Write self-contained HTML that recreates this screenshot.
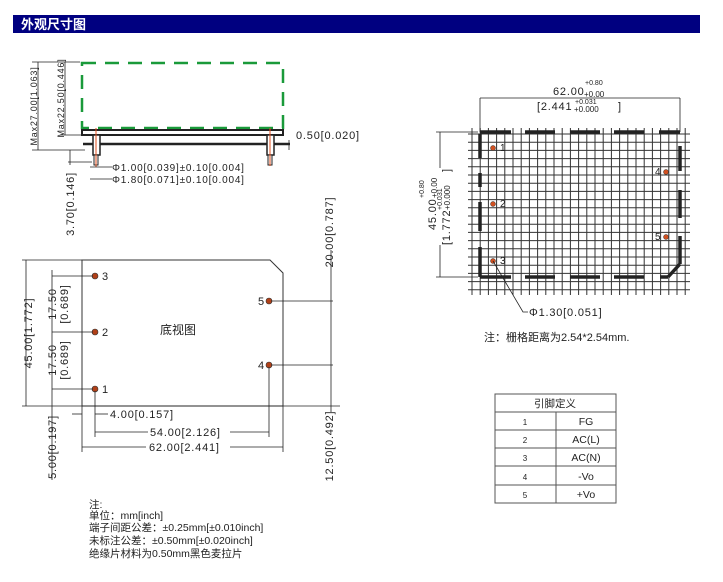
<!DOCTYPE html>
<html><head><meta charset="utf-8"><style>
body{margin:0;background:#fff;width:723px;height:577px;overflow:hidden}
svg text{font-family:"Liberation Sans","Noto Sans CJK SC",sans-serif;fill:#222}
.d{letter-spacing:0.8px}
</style></head><body>
<svg width="723" height="577" viewBox="0 0 723 577" xmlns="http://www.w3.org/2000/svg">
<rect x="13" y="15" width="687" height="18" fill="#000080"/>
<text x="21" y="29" font-size="13" font-weight="bold" style="fill:#fff">外观尺寸图</text>

<!-- side view -->
<rect x="82" y="63" width="201" height="65" fill="none" stroke="#1a9a3a" stroke-width="2.5" stroke-dasharray="14,9"/>
<rect x="82" y="130" width="201" height="5" fill="#fff" stroke="#222" stroke-width="2"/>
<line x1="83" y1="144" x2="290" y2="144" stroke="#222" stroke-width="2.5"/>
<rect x="93" y="135" width="7" height="20" fill="#fff" stroke="#222" stroke-width="1.5"/>
<rect x="94" y="155" width="4" height="10" fill="#fff" stroke="#222"/>
<rect x="267" y="135" width="7" height="20" fill="#fff" stroke="#222" stroke-width="1.5"/>
<rect x="268" y="155" width="4" height="10" fill="#fff" stroke="#222"/>
<line x1="96" y1="128" x2="96" y2="167" stroke="#e05020"/>
<line x1="270" y1="128" x2="270" y2="166" stroke="#e05020"/>
<g stroke="#222" stroke-width="0.8" fill="none">
<line x1="38" y1="62" x2="38" y2="150"/><line x1="32" y1="62" x2="80" y2="62"/><line x1="32" y1="150" x2="85" y2="150"/>
<line x1="65" y1="62" x2="65" y2="135"/><line x1="60" y1="135" x2="82" y2="135"/>
<line x1="70" y1="150" x2="70" y2="165"/><line x1="68" y1="162" x2="92" y2="162"/>
<line x1="90" y1="167" x2="112" y2="167"/><line x1="90" y1="179" x2="112" y2="179"/>
<line x1="289" y1="140" x2="289" y2="150"/>
</g>
<text transform="translate(37,106) rotate(-90)" font-size="9" text-anchor="middle" class="d">Max27.00[1.063]</text>
<text transform="translate(64,98) rotate(-90)" font-size="9" text-anchor="middle" class="d">Max22.50[0.446]</text>
<text transform="translate(74,204) rotate(-90)" font-size="11" text-anchor="middle" class="d">3.70[0.146]</text>
<text x="296" y="139" font-size="11" class="d">0.50[0.020]</text>
<text x="112" y="171" font-size="10" class="d">Φ1.00[0.039]±0.10[0.004]</text>
<text x="112" y="183" font-size="10" class="d">Φ1.80[0.071]±0.10[0.004]</text>

<!-- bottom view -->
<path d="M82 260 H270 L283 273 V406 H82 Z" fill="none" stroke="#333" stroke-width="1"/>
<g fill="#b04018" stroke="#333" stroke-width="0.6">
<circle cx="95" cy="276" r="3"/><circle cx="95" cy="332" r="3"/><circle cx="95" cy="389" r="3"/>
<circle cx="269" cy="301" r="3"/><circle cx="269" cy="365" r="3"/></g>
<text x="102" y="280" font-size="11">3</text><text x="102" y="336" font-size="11">2</text><text x="102" y="393" font-size="11">1</text>
<text x="258" y="305" font-size="11">5</text><text x="258" y="369" font-size="11">4</text>
<text x="160" y="334" font-size="12">底视图</text>
<g stroke="#222" stroke-width="0.8" fill="none">
<line x1="26" y1="260" x2="26" y2="406"/><line x1="22" y1="260" x2="82" y2="260"/><line x1="22" y1="406" x2="340" y2="406"/>
<line x1="52" y1="270" x2="52" y2="480"/><line x1="52" y1="276" x2="93" y2="276"/><line x1="52" y1="332" x2="93" y2="332"/><line x1="52" y1="389" x2="93" y2="389"/>
<line x1="82" y1="406" x2="82" y2="452"/><line x1="95" y1="391" x2="95" y2="437"/><line x1="269" y1="367" x2="269" y2="437"/><line x1="283" y1="406" x2="283" y2="452"/>
<line x1="72" y1="414" x2="82" y2="414"/><line x1="95" y1="414" x2="108" y2="414"/>
<line x1="95" y1="432" x2="148" y2="432"/><line x1="230" y1="432" x2="269" y2="432"/>
<line x1="82" y1="447" x2="146" y2="447"/><line x1="230" y1="447" x2="283" y2="447"/>
<line x1="331" y1="250" x2="331" y2="406"/><line x1="271" y1="301" x2="333" y2="301"/><line x1="271" y1="365" x2="333" y2="365"/>
<line x1="331" y1="406" x2="331" y2="412"/>
</g>
<text transform="translate(32,333) rotate(-90)" font-size="11" text-anchor="middle" class="d">45.00[1.772]</text>
<text transform="translate(56,304) rotate(-90)" font-size="11" text-anchor="middle" class="d">17.50</text>
<text transform="translate(68,304) rotate(-90)" font-size="11" text-anchor="middle" class="d">[0.689]</text>
<text transform="translate(56,360) rotate(-90)" font-size="11" text-anchor="middle" class="d">17.50</text>
<text transform="translate(68,360) rotate(-90)" font-size="11" text-anchor="middle" class="d">[0.689]</text>
<text transform="translate(56,447) rotate(-90)" font-size="11" text-anchor="middle" class="d">5.00[0.197]</text>
<text transform="translate(333,232) rotate(-90)" font-size="11" text-anchor="middle" class="d">20.00[0.787]</text>
<text transform="translate(333,446) rotate(-90)" font-size="11" text-anchor="middle" class="d">12.50[0.492]</text>
<text x="110" y="418" font-size="11" class="d">4.00[0.157]</text>
<text x="150" y="436" font-size="11" class="d">54.00[2.126]</text>
<text x="149" y="451" font-size="11" class="d">62.00[2.441]</text>
<g font-size="10.5">
<text x="89" y="508">注:</text><text x="89" y="519">单位：mm[inch]</text>
<text x="89" y="531">端子间距公差：±0.25mm[±0.010inch]</text>
<text x="89" y="544">未标注公差：±0.50mm[±0.020inch]</text>
<text x="89" y="557">绝缘片材料为0.50mm黑色麦拉片</text></g>

<!-- grid -->
<path stroke="#333" stroke-width="1" fill="none" d="
M472 128V295 M480.2 128V295 M488.4 128V295 M496.6 128V295 M504.8 128V295 M513 128V295 M521.2 128V295 M529.4 128V295 M537.6 128V295 M545.8 128V295 M554 128V295 M562.2 128V295 M570.4 128V295 M578.6 128V295 M586.8 128V295 M595 128V295 M603.2 128V295 M611.4 128V295 M619.6 128V295 M627.8 128V295 M636 128V295 M644.2 128V295 M652.4 128V295 M660.6 128V295 M668.8 128V295 M677 128V295 M685.2 128V295
M468 134H690 M468 142.2H690 M468 150.4H690 M468 158.6H690 M468 166.8H690 M468 175H690 M468 183.2H690 M468 191.4H690 M468 199.6H690 M468 207.8H690 M468 216H690 M468 224.2H690 M468 232.4H690 M468 240.6H690 M468 248.8H690 M468 257H690 M468 265.2H690 M468 273.4H690 M468 281.6H690 M468 289.8H690"/>
<g stroke="#222" stroke-width="3.5" fill="none">
<line x1="480" y1="132" x2="511" y2="132"/><line x1="525" y1="132" x2="555" y2="132"/><line x1="570" y1="132" x2="600" y2="132"/><line x1="614" y1="132" x2="644" y2="132"/><line x1="659" y1="132" x2="680" y2="132"/>
<line x1="480" y1="277" x2="511" y2="277"/><line x1="525" y1="277" x2="555" y2="277"/><line x1="570" y1="277" x2="600" y2="277"/><line x1="614" y1="277" x2="644" y2="277"/><line x1="660" y1="277" x2="668" y2="277"/>
<line x1="480" y1="134" x2="480" y2="158"/><line x1="480" y1="173" x2="480" y2="187"/><line x1="480" y1="202" x2="480" y2="231"/><line x1="480" y1="247" x2="480" y2="277"/>
<line x1="680" y1="146" x2="680" y2="171"/><line x1="680" y1="190" x2="680" y2="218"/><line x1="680" y1="236" x2="680" y2="264"/>
<path d="M680 264 L668 277"/>
</g>
<g fill="#d05020" stroke="#333" stroke-width="0.5"><circle cx="493" cy="148" r="2.5"/><circle cx="493" cy="204" r="2.5"/><circle cx="493" cy="261" r="2.5"/><circle cx="666" cy="172" r="2.5"/><circle cx="666" cy="237" r="2.5"/></g>
<g font-size="10"><text x="500" y="151">1</text><text x="500" y="207">2</text><text x="500" y="264">3</text><text x="655" y="175">4</text><text x="655" y="240">5</text></g>
<g stroke="#222" stroke-width="0.8" fill="none">
<line x1="480" y1="98" x2="680" y2="98"/><line x1="480" y1="98" x2="480" y2="132"/><line x1="680" y1="98" x2="680" y2="132"/>
<line x1="440" y1="132" x2="440" y2="168"/><line x1="440" y1="245" x2="440" y2="277"/><line x1="436" y1="132" x2="478" y2="132"/><line x1="436" y1="277" x2="478" y2="277"/>
<path d="M493 261 L523 312 H528"/>
</g>
<text x="553" y="95" font-size="11" class="d">62.00</text><text x="585" y="85" font-size="7">+0.80</text><text x="584" y="97" font-size="8">+0.00</text>
<text x="537" y="110" font-size="11" class="d">[2.441</text><text x="575" y="104" font-size="7">+0.031</text><text x="574" y="112" font-size="8">+0.000</text><text x="618" y="110" font-size="11">]</text>
<text transform="translate(436,230) rotate(-90)" font-size="11" class="d">45.00</text>
<text transform="translate(424,198) rotate(-90)" font-size="7">+0.80</text>
<text transform="translate(437,198) rotate(-90)" font-size="8">+0.00</text>
<text transform="translate(450,245) rotate(-90)" font-size="11" class="d">[1.772</text>
<text transform="translate(442,210) rotate(-90)" font-size="7">+0.031</text>
<text transform="translate(450,210) rotate(-90)" font-size="8">+0.000</text>
<text transform="translate(450,172) rotate(-90)" font-size="11">]</text>
<text x="529" y="316" font-size="11" class="d">Φ1.30[0.051]</text>
<text x="484" y="341" font-size="11">注：栅格距离为2.54*2.54mm.</text>

<!-- table -->
<g stroke="#555" stroke-width="1" fill="none">
<rect x="495" y="394" width="121" height="109"/>
<line x1="495" y1="412" x2="616" y2="412"/><line x1="495" y1="430" x2="616" y2="430"/><line x1="495" y1="448" x2="616" y2="448"/><line x1="495" y1="466" x2="616" y2="466"/><line x1="495" y1="485" x2="616" y2="485"/>
<line x1="556" y1="412" x2="556" y2="503"/></g>
<g font-size="10.5" text-anchor="middle">
<text x="555" y="407">引脚定义</text>
<text x="525" y="425" font-size="8">1</text><text x="586" y="425">FG</text>
<text x="525" y="443" font-size="8">2</text><text x="586" y="443">AC(L)</text>
<text x="525" y="461" font-size="8">3</text><text x="586" y="461">AC(N)</text>
<text x="525" y="480" font-size="8">4</text><text x="586" y="480">-Vo</text>
<text x="525" y="498" font-size="8">5</text><text x="586" y="498">+Vo</text></g>
</svg>
</body></html>
